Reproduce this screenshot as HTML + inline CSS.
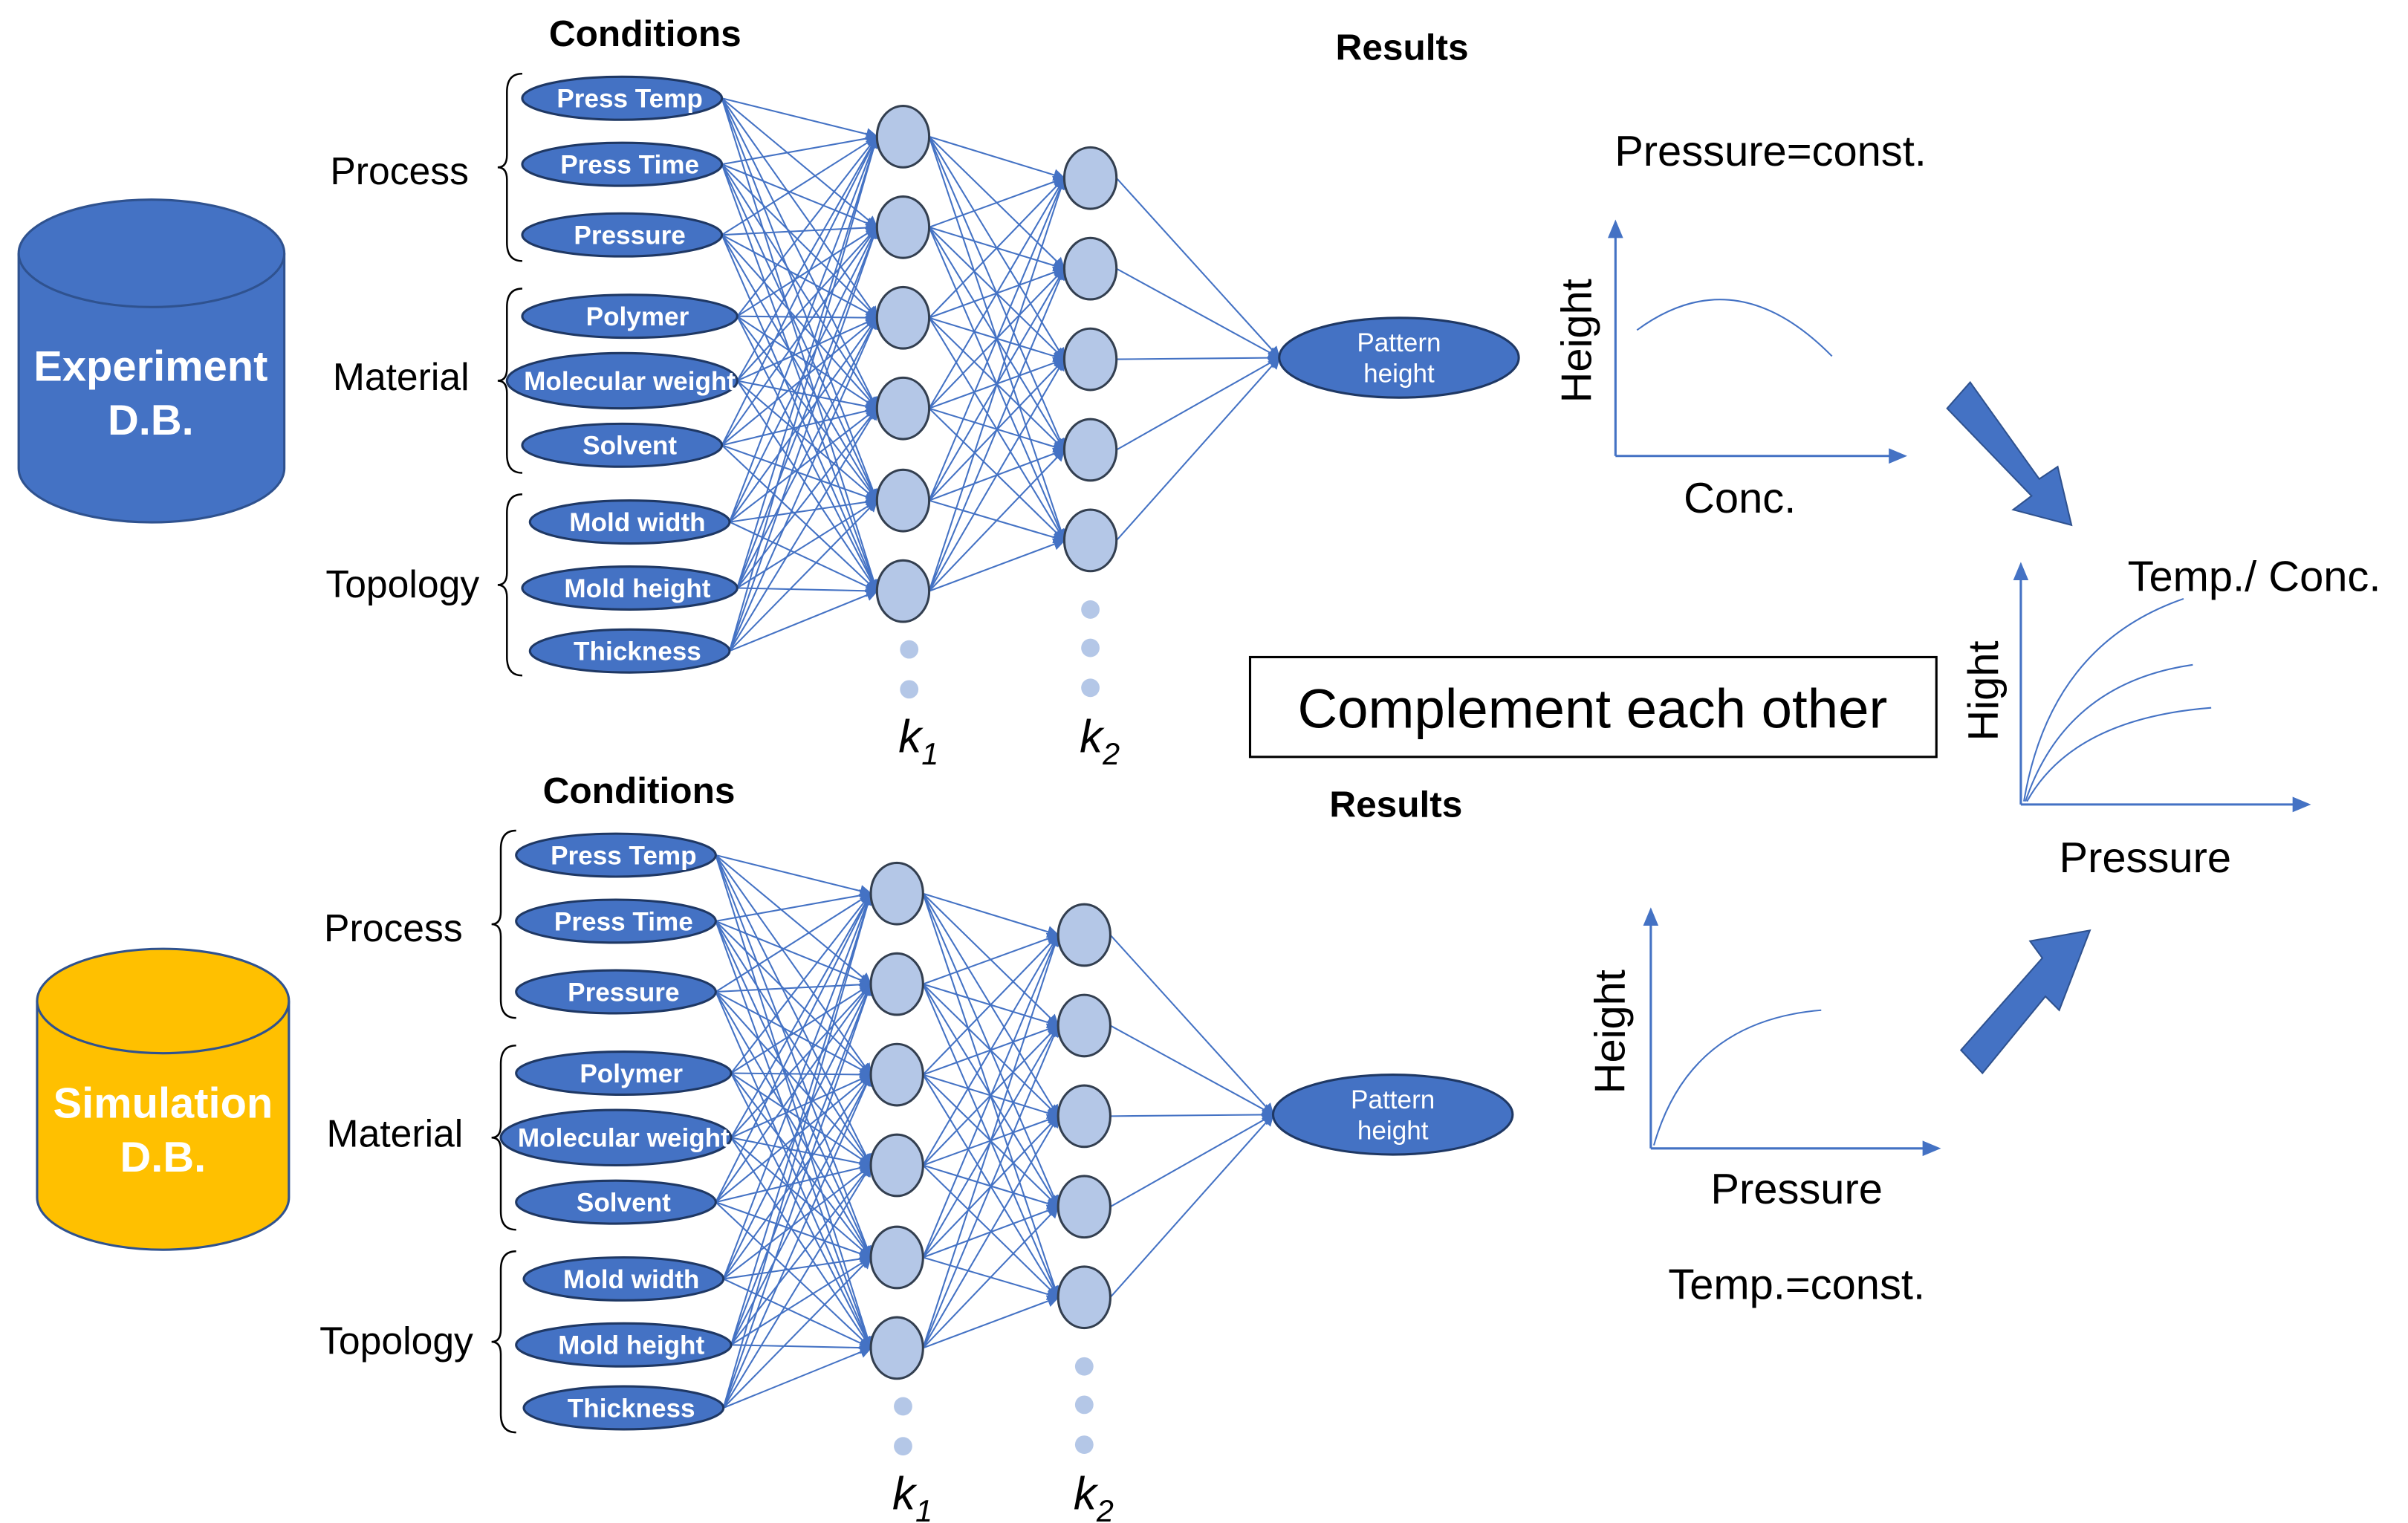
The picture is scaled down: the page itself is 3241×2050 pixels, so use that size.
<!DOCTYPE html>
<html><head><meta charset="utf-8"><style>
html,body{margin:0;padding:0;background:#fff;}
svg{display:block;}
text{font-family:"Liberation Sans Narrow","Liberation Sans",sans-serif;}
</style></head><body>
<svg id="s" width="3241" height="2050" viewBox="0 0 1568 992" xmlns="http://www.w3.org/2000/svg">
<defs>
<marker id="ar" markerWidth="8" markerHeight="8" refX="7" refY="4" orient="auto" markerUnits="userSpaceOnUse"><path d="M0,0 L8,4 L0,8 z" fill="#4472C4"/></marker>
<marker id="ax" markerWidth="12" markerHeight="12" refX="10" refY="6" orient="auto" markerUnits="userSpaceOnUse"><path d="M0,1 L12,6 L0,11 z" fill="#4472C4"/></marker>
</defs>
<g id="lines"></g>
<g id="nodes"></g>
<!-- cylinders -->
<g stroke="#2F528F" stroke-width="1.5">
<path d="M12,165 L12,305 A86,35 0 0 0 185,305 L185,165" fill="#4472C4"/>
<ellipse cx="98.5" cy="165" rx="86.5" ry="35" fill="#4472C4"/>
<path d="M24,652 L24,780 A82,34 0 0 0 188,780 L188,652" fill="#FFC000"/>
<ellipse cx="106" cy="652" rx="82" ry="34" fill="#FFC000"/>
</g>
<g fill="#fff" font-size="28" font-weight="bold" text-anchor="middle">
<text x="98" y="248">Experiment</text><text x="98" y="283">D.B.</text>
<text x="106" y="728">Simulation</text><text x="106" y="763">D.B.</text>
</g>
<!-- charts -->
<g stroke="#4472C4" stroke-width="1.5" fill="none">
<line x1="1052" y1="297" x2="1052" y2="145" marker-end="url(#ax)"/>
<line x1="1052" y1="297" x2="1240" y2="297" marker-end="url(#ax)"/>
<path d="M1066,215 Q1130,168 1193,232" stroke-width="1"/>
<line x1="1075" y1="748" x2="1075" y2="593" marker-end="url(#ax)"/>
<line x1="1075" y1="748" x2="1262" y2="748" marker-end="url(#ax)"/>
<path d="M1077,746 Q1100,665 1186,658" stroke-width="1"/>
<line x1="1316" y1="524" x2="1316" y2="368" marker-end="url(#ax)"/>
<line x1="1316" y1="524" x2="1503" y2="524" marker-end="url(#ax)"/>
<path d="M1318,522 Q1335,420 1422,390" stroke-width="1"/>
<path d="M1319,522 Q1345,445 1428,433" stroke-width="1"/>
<path d="M1320,522 Q1350,468 1440,461" stroke-width="1"/>
</g>
<!-- big arrows -->
<polygon points="1268,266 1283,249 1328,312 1340,304 1349,342 1311,332 1323,323" fill="#4472C4" stroke="#2F528F" stroke-width="1"/>
<polygon points="1277,684 1291,699 1332,649 1341,658 1361,606 1322,613 1330,624" fill="#4472C4" stroke="#2F528F" stroke-width="1"/>
<rect x="814" y="428" width="447" height="65" fill="#fff" stroke="#000" stroke-width="1.5"/>
<text x="1037" y="474" font-size="36" text-anchor="middle" font-family="Liberation Sans">Complement each other</text>
<g font-size="28" fill="#000" text-anchor="middle">
<text x="1153" y="108">Pressure=const.</text>
<text x="1133" y="334">Conc.</text>
<text x="1170" y="784">Pressure</text>
<text x="1170" y="846">Temp.=const.</text>
<text x="1468" y="385">Temp./ Conc.</text>
<text x="1397" y="568">Pressure</text>
<text transform="translate(1036,222) rotate(-90)">Height</text>
<text transform="translate(1058,672) rotate(-90)">Height</text>
<text transform="translate(1301,450) rotate(-90)">Hight</text>
</g>
</svg>
<script>
var NS="http://www.w3.org/2000/svg";
var L=document.getElementById('lines'),N=document.getElementById('nodes');
function el(p,tag,a,txt){var e=document.createElementNS(NS,tag);for(var k in a)e.setAttribute(k,a[k]);if(txt)e.textContent=txt;p.appendChild(e);return e;}
function net(dx,dy){
 var ins=[["Press Temp",405,64,65],["Press Time",405,107,65],["Pressure",405,153,65],["Polymer",410,206,70],["Molecular weight",405,248,75],["Solvent",405,290,65],["Mold width",410,340,65],["Mold height",410,383,70],["Thickness",410,424,65]];
 var h1=[89,148,207,266,326,385],h2=[116,175,234,293,352];
 var x1=588,x2=710;
 ins.forEach(function(i){h1.forEach(function(y){el(L,'line',{x1:i[1]+i[3]+dx,y1:i[2]+dy,x2:x1-17+dx,y2:y+dy,stroke:'#4472C4','stroke-width':1,'marker-end':'url(#ar)'});});});
 h1.forEach(function(a){h2.forEach(function(b){el(L,'line',{x1:x1+17+dx,y1:a+dy,x2:x2-17+dx,y2:b+dy,stroke:'#4472C4','stroke-width':1,'marker-end':'url(#ar)'});});});
 h2.forEach(function(b){el(L,'line',{x1:x2+17+dx,y1:b+dy,x2:833+dx,y2:233+dy,stroke:'#4472C4','stroke-width':1,'marker-end':'url(#ar)'});});
 ins.forEach(function(i){var ry=i[0]=="Molecular weight"?18:14;
  el(N,'ellipse',{cx:i[1]+dx,cy:i[2]+dy,rx:i[3],ry:ry,fill:'#4472C4',stroke:'#1F3864','stroke-width':1.5});
  el(N,'text',{x:i[1]+dx+5,y:i[2]+dy+6,'font-size':17,fill:'#fff','text-anchor':'middle','font-weight':'bold'},i[0]);});
 h1.forEach(function(y){el(N,'ellipse',{cx:x1+dx,cy:y+dy,rx:17,ry:20,fill:'#B4C7E7',stroke:'#333F50','stroke-width':1.5});});
 h2.forEach(function(y){el(N,'ellipse',{cx:x2+dx,cy:y+dy,rx:17,ry:20,fill:'#B4C7E7',stroke:'#333F50','stroke-width':1.5});});
 [423,449].forEach(function(y){el(N,'circle',{cx:592+dx,cy:y+dy,r:6,fill:'#B4C7E7'});});
 [397,422,448].forEach(function(y){el(N,'circle',{cx:710+dx,cy:y+dy,r:6,fill:'#B4C7E7'});});
 el(N,'ellipse',{cx:911+dx,cy:233+dy,rx:78,ry:26,fill:'#4472C4',stroke:'#1F3864','stroke-width':1.5});
 el(N,'text',{x:911+dx,y:229+dy,'font-size':17,fill:'#fff','text-anchor':'middle'},"Pattern");
 el(N,'text',{x:911+dx,y:249+dy,'font-size':17,fill:'#fff','text-anchor':'middle'},"height");
 var k1=el(N,'text',{x:585+dx,y:490+dy,'font-size':30,'font-style':'italic','font-family':'Liberation Serif'},"k");el(k1,'tspan',{'font-size':20,dy:8},"1");
 var k2=el(N,'text',{x:703+dx,y:490+dy,'font-size':30,'font-style':'italic','font-family':'Liberation Serif'},"k");el(k2,'tspan',{'font-size':20,dy:8},"2");
 el(N,'text',{x:420+dx,y:30+dy,'font-size':24,'font-weight':'bold','text-anchor':'middle'},"Conditions");
 el(N,'text',{x:913+dx,y:39+dy,'font-size':24,'font-weight':'bold','text-anchor':'middle'},"Results");
 [["Process",48,170,260,111],["Material",188,308,261,245],["Topology",322,440,262,380]].forEach(function(b){
  var t=b[1]+dy,bo=b[2]+dy,m=(t+bo)/2,x=340+dx;
  el(N,'path',{d:'M'+x+','+t+' Q'+(x-10)+','+t+' '+(x-10)+','+(t+12)+' L'+(x-10)+','+(m-8)+' Q'+(x-10)+','+m+' '+(x-16)+','+m+' Q'+(x-10)+','+m+' '+(x-10)+','+(m+8)+' L'+(x-10)+','+(bo-12)+' Q'+(x-10)+','+bo+' '+x+','+bo,fill:'none',stroke:'#000','stroke-width':1.2});
  el(N,'text',{x:b[3]+dx,y:b[4]+dy+9,'font-size':25,'text-anchor':'middle'},b[0]);});
}
net(0,0);net(-4,493);
</script>
</body></html>
